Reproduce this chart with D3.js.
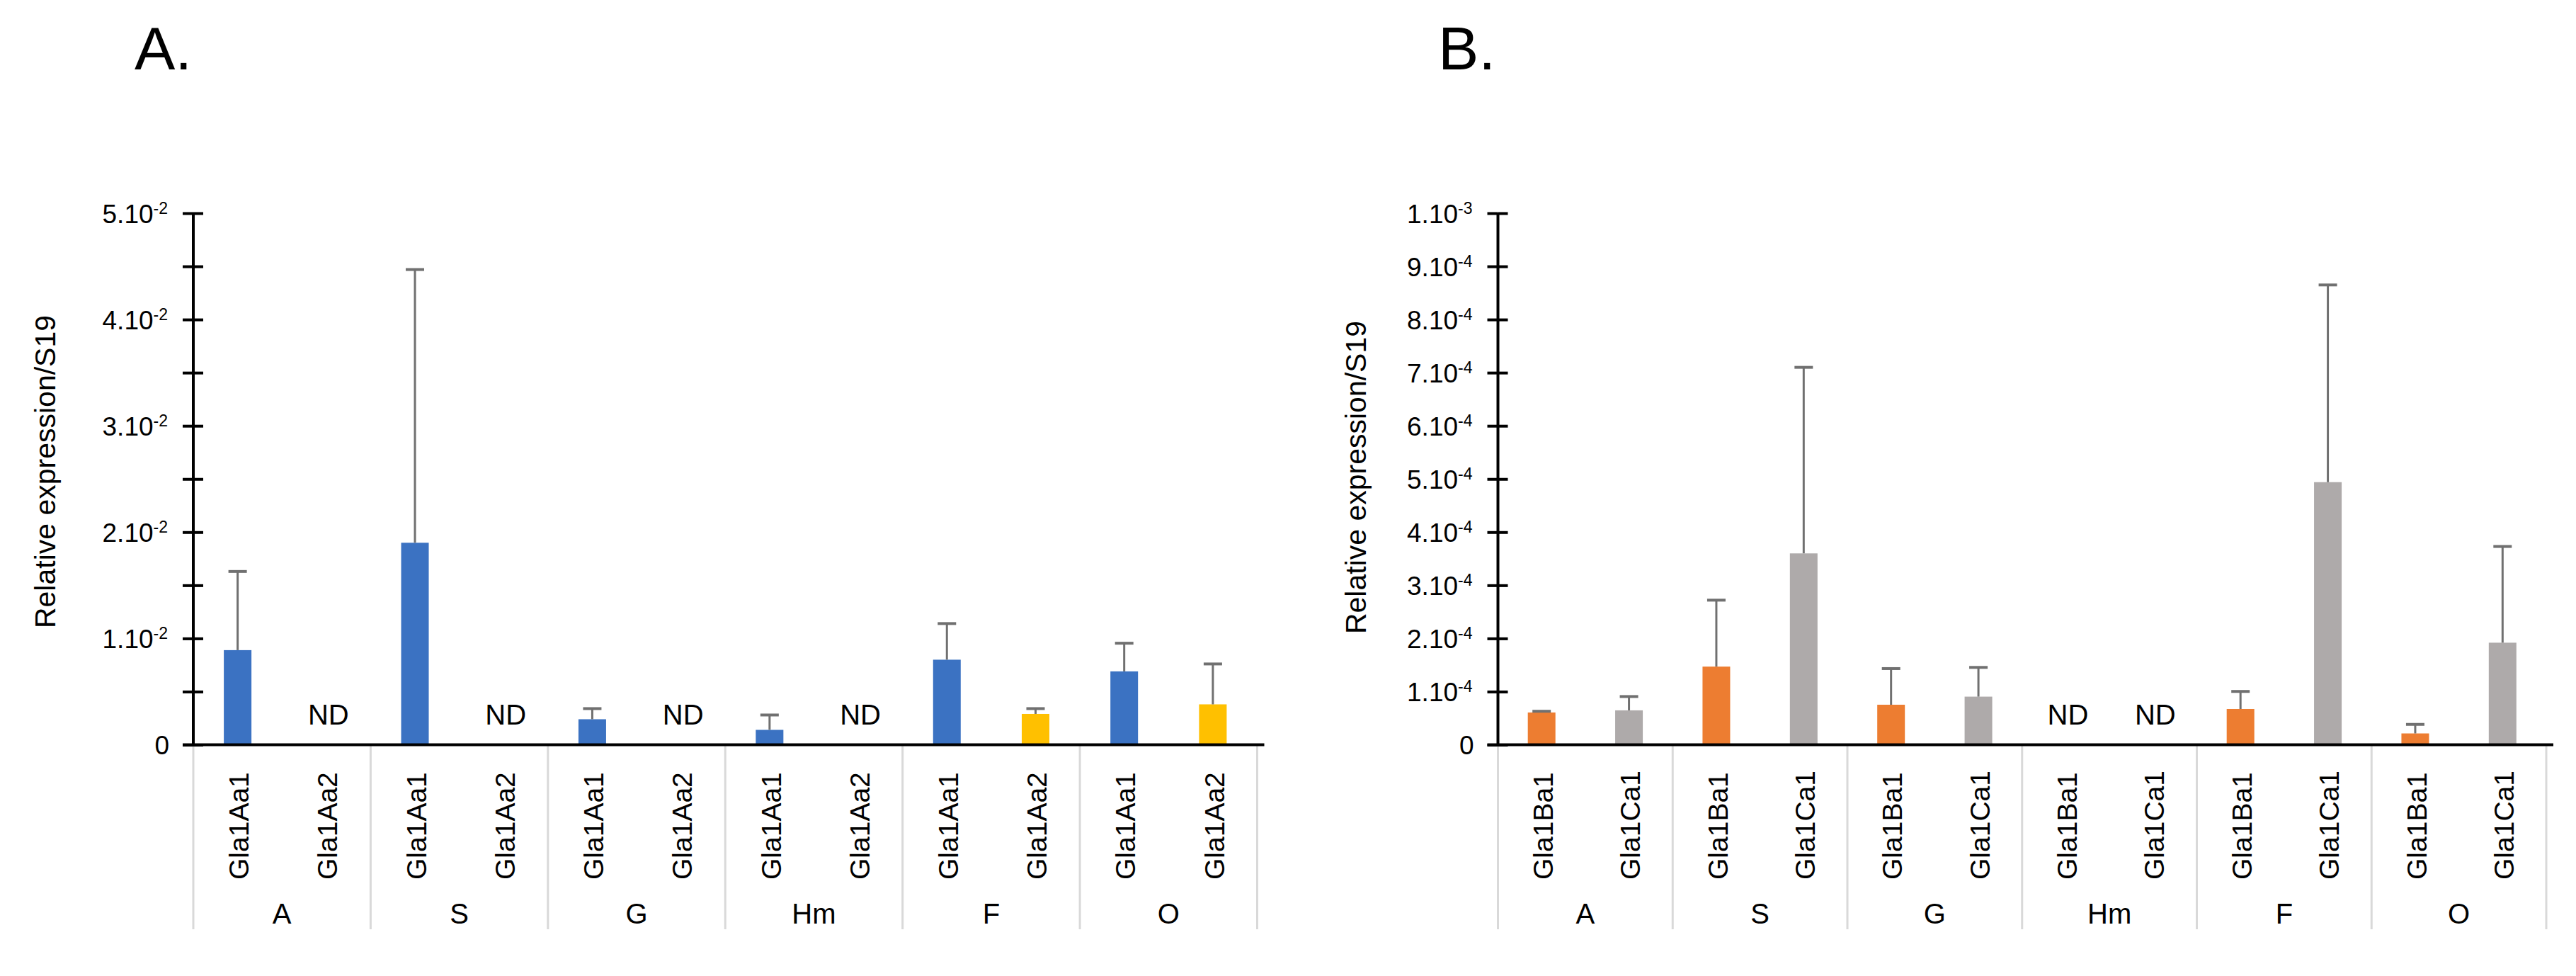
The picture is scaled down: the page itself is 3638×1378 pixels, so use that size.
<!DOCTYPE html>
<html>
<head>
<meta charset="utf-8">
<script src="https://cdn.jsdelivr.net/npm/d3@7"></script>
<style>
  html, body { margin: 0; padding: 0; background: #fff; }
  svg { display: block; font-family: "Liberation Sans", Arial, Helvetica, sans-serif; }
</style>
</head>
<body>
<svg id="chart" width="3638" height="1378"></svg>
<script>
// ---------- data ----------
const tissues = ["A", "S", "G", "Hm", "F", "O"];

// Panel A
const genesA = ["Gla1Aa1", "Gla1Aa2"];
const meanAa1 = [0.0089, 0.0190, 0.0024, 0.0014, 0.0080, 0.0069];
const sdAa1   = [0.0074, 0.0257, 0.0010, 0.0014, 0.0034, 0.00265];
const meanAa2 = [null, null, null, null, 0.0029, 0.0038];
const sdAa2   = [null, null, null, null, 0.0005, 0.0038];
const ticksA  = [0, 0.005, 0.01, 0.015, 0.02, 0.025, 0.03, 0.035, 0.04, 0.045, 0.05];
const tickLabelsA = [["0", ""], null, ["1.10", "-2"], null, ["2.10", "-2"], null,
                     ["3.10", "-2"], null, ["4.10", "-2"], null, ["5.10", "-2"]];

// Panel B
const genesB = ["Gla1Ba1", "Gla1Ca1"];
const meanBa1 = [0.0000607, 0.000147, 0.0000753, null, 0.0000673, 0.0000213];
const sdBa1   = [0.0000023, 0.000125, 0.000068, null, 0.000033, 0.000017];
const meanCa1 = [0.0000647, 0.000360, 0.0000905, null, 0.000494, 0.000192];
const sdCa1   = [0.000026, 0.000350, 0.000055, null, 0.000371, 0.000181];
const ticksB  = [0, 0.0001, 0.0002, 0.0003, 0.0004, 0.0005, 0.0006, 0.0007, 0.0008, 0.0009, 0.001];
const tickLabelsB = [["0", ""], ["1.10", "-4"], ["2.10", "-4"], ["3.10", "-4"], ["4.10", "-4"],
                     ["5.10", "-4"], ["6.10", "-4"], ["7.10", "-4"], ["8.10", "-4"], ["9.10", "-4"], ["1.10", "-3"]];

const yTitle = "Relative expression/S19";
const ndLabel = "ND";

// ---------- drawing ----------
const svg = d3.select("#chart");
svg.append("rect").attr("width", 3638).attr("height", 1378).attr("fill", "#fff");

function drawPanel(opt) {
  const g = svg.append("g");
  const x0 = d3.scaleBand().domain(tissues).range([opt.left, opt.right]).padding(0);
  const x1 = d3.scaleBand().domain(opt.genes).range([0, x0.bandwidth()]).padding(0);
  const y = d3.scaleLinear().domain([0, opt.max]).range([1051.5, 301]);
  const barW = 39;

  // panel letter
  g.append("text").attr("x", opt.letterX).attr("y", 98)
    .attr("font-size", 86).attr("fill", "#000").text(opt.letter);

  // y title
  g.append("text")
    .attr("transform", `translate(${opt.titleX},${opt.titleY}) rotate(-90)`)
    .attr("text-anchor", "middle").attr("dy", "0.35em")
    .attr("font-size", 41).attr("fill", "#000").text(yTitle);

  // category dividers
  const bounds = tissues.map(t => x0(t)).concat([opt.right]);
  g.selectAll("line.div").data(bounds).enter().append("line")
    .attr("x1", d => d).attr("x2", d => d)
    .attr("y1", y(0)).attr("y2", 1312)
    .attr("stroke", "#d9d9d9").attr("stroke-width", 3);

  // bars + error bars
  opt.series.forEach((s, si) => {
    const gene = opt.genes[si];
    tissues.forEach((t, i) => {
      const cx = x0(t) + x1(gene) + x1.bandwidth() / 2;
      const v = s.mean[i];
      if (v === null) {
        g.append("text").attr("x", cx + 3).attr("y", 1023)
          .attr("text-anchor", "middle").attr("font-size", 40).attr("fill", "#000")
          .text(ndLabel);
        return;
      }
      g.append("rect")
        .attr("x", cx - barW / 2).attr("width", barW)
        .attr("y", y(v)).attr("height", y(0) - y(v))
        .attr("fill", s.color);
      const top = y(v + s.sd[i]);
      g.append("line").attr("x1", cx).attr("x2", cx)
        .attr("y1", y(v)).attr("y2", top)
        .attr("stroke", "#707070").attr("stroke-width", 3);
      g.append("line").attr("x1", cx - 13).attr("x2", cx + 13)
        .attr("y1", top).attr("y2", top)
        .attr("stroke", "#707070").attr("stroke-width", 4);
    });
  });

  // y axis ticks (crossing both sides)
  const axL = g.append("g").attr("transform", `translate(${opt.left},0)`)
    .call(d3.axisLeft(y).tickValues(opt.ticks).tickSize(15).tickSizeOuter(0).tickFormat(""));
  const axR = g.append("g").attr("transform", `translate(${opt.left},0)`)
    .call(d3.axisRight(y).tickValues(opt.ticks).tickSize(14).tickSizeOuter(0).tickFormat(""));
  [axL, axR].forEach(a => {
    a.select(".domain").remove();
    a.selectAll(".tick line").attr("stroke", "#000").attr("stroke-width", 4);
  });

  // tick labels with superscripts
  axL.selectAll(".tick").each(function (d, i) {
    const lab = opt.tickLabels[i];
    if (!lab) return;
    const t = d3.select(this).append("text")
      .attr("x", -36).attr("y", 0).attr("dy", "0.36em")
      .attr("text-anchor", "end").attr("fill", "#000")
      .attr("font-size", 37).attr("font-family", "\"Liberation Sans\", Arial, sans-serif");
    t.append("tspan").text(lab[0]);
    if (lab[1]) {
      t.append("tspan").attr("font-size", 23).attr("dy", -13).text(lab[1]);
    } else {
      t.attr("x", -34);
    }
  });

  // axis lines
  g.append("line").attr("x1", opt.left).attr("x2", opt.left)
    .attr("y1", y(0)).attr("y2", y(opt.max))
    .attr("stroke", "#000").attr("stroke-width", 4);
  g.append("line").attr("x1", opt.left - 15).attr("x2", opt.right + 10)
    .attr("y1", y(0)).attr("y2", y(0))
    .attr("stroke", "#000").attr("stroke-width", 4);

  // rotated gene labels
  opt.genes.forEach(gene => {
    tissues.forEach(t => {
      const cx = x0(t) + x1(gene) + x1.bandwidth() / 2;
      g.append("text")
        .attr("transform", `translate(${cx + 2},1242) rotate(-90)`)
        .attr("dy", "0.35em").attr("text-anchor", "start")
        .attr("font-size", 39).attr("fill", "#000").text(gene);
    });
  });

  // tissue labels
  tissues.forEach(t => {
    g.append("text").attr("x", x0(t) + x0.bandwidth() / 2).attr("y", 1304)
      .attr("text-anchor", "middle").attr("font-size", 40).attr("fill", "#000").text(t);
  });
}

drawPanel({
  letter: "A.", letterX: 190,
  left: 273, right: 1775.5, max: 0.05,
  titleX: 64, titleY: 666,
  genes: genesA,
  series: [
    { mean: meanAa1, sd: sdAa1, color: "#3b72c2" },
    { mean: meanAa2, sd: sdAa2, color: "#ffc000" }
  ],
  ticks: ticksA, tickLabels: tickLabelsA
});

drawPanel({
  letter: "B.", letterX: 2031,
  left: 2115.5, right: 3596, max: 0.001,
  titleX: 1915, titleY: 674,
  genes: genesB,
  series: [
    { mean: meanBa1, sd: sdBa1, color: "#ed7d31" },
    { mean: meanCa1, sd: sdCa1, color: "#aeaaaa" }
  ],
  ticks: ticksB, tickLabels: tickLabelsB
});
</script>
</body>
</html>
